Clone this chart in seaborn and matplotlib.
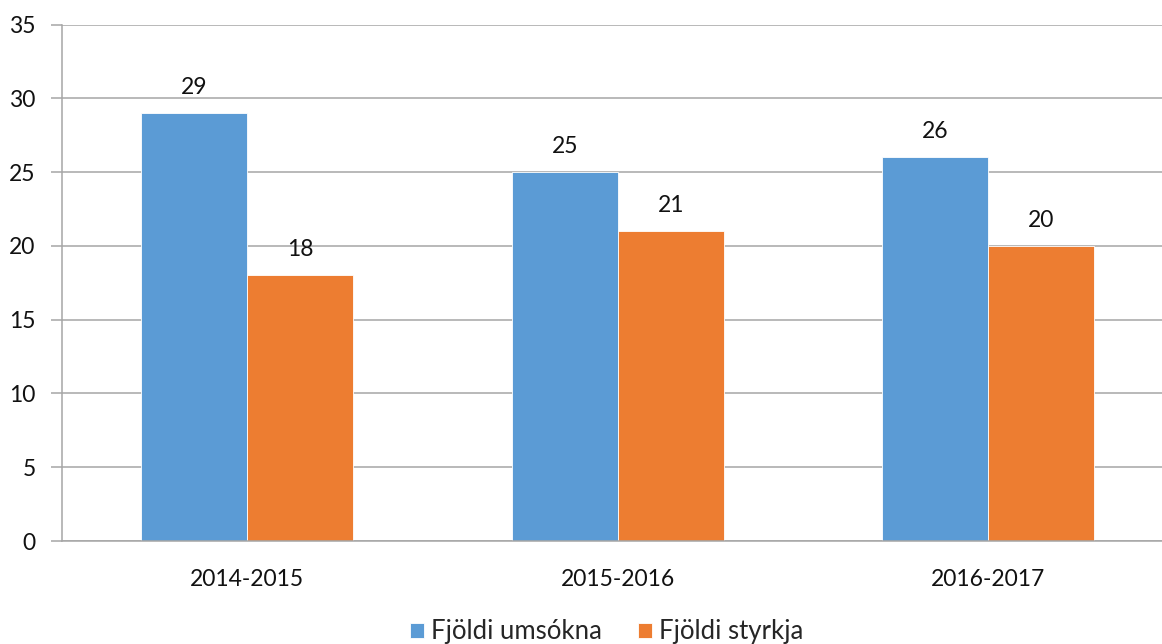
import matplotlib
matplotlib.use("Agg")
import matplotlib.pyplot as plt
import numpy as np
import pandas as pd
import seaborn as sns

categories = ["2014-2015", "2015-2016", "2016-2017"]
series_names = ["Fjöldi umsókna", "Fjöldi styrkja"]
umsokna = [29, 25, 26]
styrkja = [18, 21, 20]
colors = ["#5B9BD5", "#ED7D31"]

data = pd.DataFrame({
    "ar": categories * 2,
    "series": [series_names[0]] * 3 + [series_names[1]] * 3,
    "value": umsokna + styrkja,
})

sns.set_style("white")
plt.rcParams['font.family'] = ['Lato', 'DejaVu Sans']

fig = plt.figure(figsize=(11.62, 6.44), dpi=100)
ax = fig.add_axes([62 / 1162, 103 / 644, 1111.5 / 1162, 516.5 / 644])

sns.barplot(data=data, x="ar", y="value", hue="series", palette=colors, saturation=1,
            width=0.572, gap=0, edgecolor="white", linewidth=0.6, ax=ax)

for c in ax.containers:
    ax.bar_label(c, padding=11, fontsize=16.5, color="#111111")

ax.set_ylim(0, 35)
ax.set_yticks(np.arange(0, 36, 5))
ax.set_xlim(-0.5, 2.5)
ax.yaxis.grid(True, color="#a6a6a6", linewidth=1.1)
ax.set_axisbelow(True)
for s in ["top", "right"]:
    ax.spines[s].set_visible(False)
ax.spines["left"].set_color("#a6a6a6")
ax.spines["bottom"].set_color("#a6a6a6")
ax.spines["left"].set_linewidth(1.1)
ax.spines["bottom"].set_linewidth(1.1)

ax.set_xticks([0, 1, 2])
ax.set_xticklabels(categories)
ax.set_xticks([-0.5, 0.5, 1.5, 2.5], minor=True)
ax.tick_params(axis="x", which="major", length=0, pad=20, labelsize=16.5, labelcolor="#111111")
ax.tick_params(axis="x", which="minor", length=7, color="#a6a6a6", width=1.1, direction="out")
ax.tick_params(axis="y", length=8, color="#a6a6a6", width=1.1, pad=11, labelsize=16.5, labelcolor="#111111", left=True)
ax.set_xlabel("")
ax.set_ylabel("")

ax.legend(loc="center", bbox_to_anchor=(607 / 1162, 12 / 644), bbox_transform=fig.transFigure,
          ncol=2, frameon=False, fontsize=18.5, handlelength=0.52, handleheight=0.52,
          handletextpad=0.3, columnspacing=1.4, borderaxespad=0.0, borderpad=0.0)

fig.savefig("out.png", dpi=100)
